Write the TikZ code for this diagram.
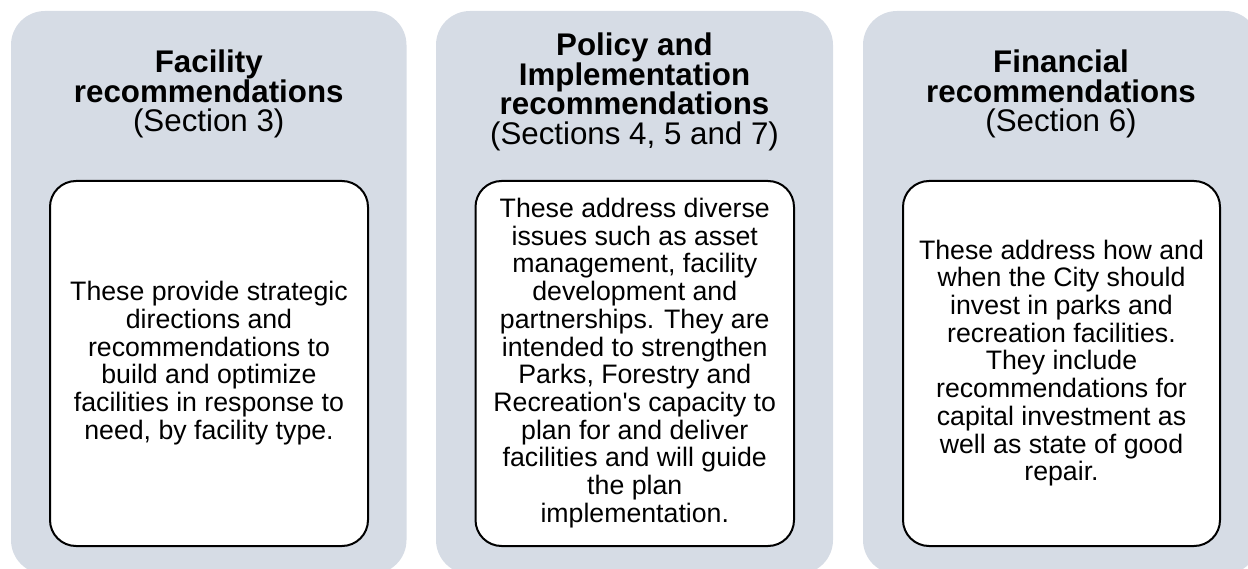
\documentclass[tikz,border=0pt]{standalone}
\usepackage{fontspec}
\setmainfont{Liberation Sans}
\definecolor{panelgrey}{HTML}{D6DCE5}
\begin{document}
\begin{tikzpicture}[x=1pt,y=-1pt,
  panel/.style={fill=panelgrey, draw=none, rounded corners=34pt},
  card/.style={fill=white, draw=black, line width=2pt, rounded corners=26pt},
  head/.style={font=\fontsize{31.3}{29.5}\selectfont, align=center, inner sep=0pt, anchor=north},
  body/.style={font=\fontsize{26.7}{27.7}\selectfont, align=center, inner sep=0pt}]
\useasboundingbox (0,0) rectangle (1248,569);
% panels
\path[panel] (11,11) rectangle (406.5,574);
\path[panel] (436,11) rectangle (833,574);
\path[panel] (863,11) rectangle (1259,574);
% cards
\path[card] (50,181) rectangle (368,546);
\path[card] (475.5,181) rectangle (794,546);
\path[card] (903,181) rectangle (1220,546);
% headers
\node[head] (h1) at (208.75,50) {\textbf{Facility}\\\textbf{recommendations}\\(Section 3)};
\node[head] (h2) at (634.5,33) {\textbf{Policy and}\\\textbf{Implementation}\\\textbf{recommendations}\\(Sections 4, 5 and 7)};
\node[head] (h3) at (1061,50) {\textbf{Financial}\\\textbf{recommendations}\\(Section 6)};
% bodies
\node[body] (b1) at (209,363) {These provide strategic\\directions and\\recommendations to\\build and optimize\\facilities in response to\\need, by facility type.};
\node[body] (b2) at (634.75,363) {These address diverse\\issues such as asset\\management, facility\\development and\\partnerships. They are\\intended to strengthen\\Parks, Forestry and\\Recreation\textquotesingle s capacity to\\plan for and deliver\\facilities and will guide\\the plan\\implementation.};
\node[body] (b3) at (1061.5,363) {These address how and\\when the City should\\invest in parks and\\recreation facilities.\\They include\\recommendations for\\capital investment as\\well as state of good\\repair.};
\end{tikzpicture}
\end{document}
